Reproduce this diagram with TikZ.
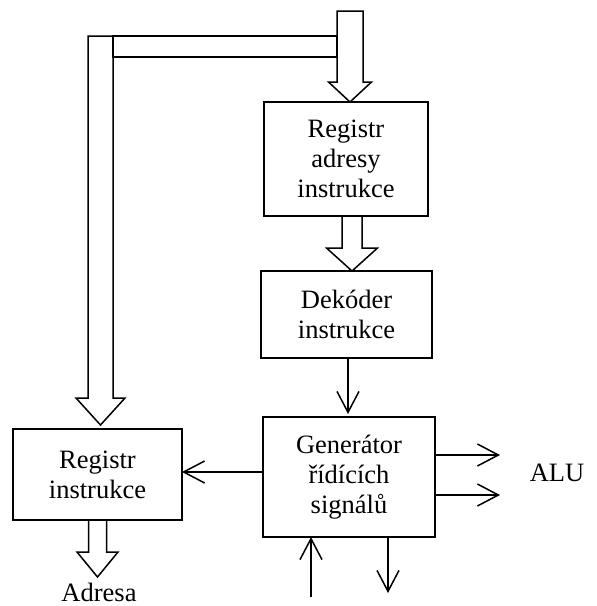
\documentclass[tikz,border=0pt]{standalone}
\usepackage{fontspec}
\setmainfont{Liberation Serif}
\usetikzlibrary{arrows.meta,calc}

% Hollow bus arrow pointing down: #1 tail point, #2 tip point,
% #3 half shaft width, #4 half head width, #5 head length (all in pt)
\newcommand\busdown[5]{%
  \draw[bus] let \p1=(#1), \p2=(#2) in
    (\x2-#3pt,\y1) -- (\x2+#3pt,\y1) -- (\x2+#3pt,\y2+#5pt) --
    (\x2+#4pt,\y2+#5pt) -- (\x2,\y2) -- (\x2-#4pt,\y2+#5pt) --
    (\x2-#3pt,\y2+#5pt) -- cycle;}

\begin{document}
\begin{tikzpicture}[x=1pt,y=-1pt,
  line width=1.5pt,
  blk/.style={draw,rectangle,inner sep=0pt,outer sep=0pt,align=center,
    font=\fontsize{26.5}{30}\selectfont},
  lbl/.style={inner sep=0pt,font=\fontsize{26.5}{30}\selectfont},
  bus/.style={draw,line join=miter,fill=white},
  sig/.style={-{Straight Barb[length=21pt,width=22pt]}}]
\useasboundingbox (0,0) rectangle (597,606);

% blocks of the control unit
\node[blk,minimum width=164pt,minimum height=114pt] (rai) at (346,159)
  {Registr\\adresy\\instrukce};
\node[blk,minimum width=171pt,minimum height=87pt] (dek) at (346.5,314.5)
  {Dekóder\\instrukce};
\node[blk,minimum width=172pt,minimum height=120pt] (gen) at (349,477)
  {Generátor\\řídících\\signálů};
\node[blk,minimum width=169pt,minimum height=91pt] (ri) at (97.5,474.5)
  {Registr\\instrukce};
\node[lbl] (alu) at (557,473) {ALU};
\node[lbl] (adr) at (99,592) {Adresa};

% anchor points for the buses and signal lines
\coordinate (busin) at (350,11);
\coordinate (bustop) at (100.5,36);
\coordinate (midbus) at (352,0);
\coordinate (adrtip) at (97.5,577);
\coordinate (sigx) at (348,0);
\coordinate (lnk) at (0,472);
\coordinate (alu1) at (500,455);
\coordinate (alu2) at (500,495);
\coordinate (inb) at (311,597);
\coordinate (outb) at (388,593);

% internal data bus
\busdown{bustop}{$(ri.north -| bustop)+(0,4pt)$}{12.5}{24.5}{27}
\draw[bus] (113,36) rectangle (337,57);
\busdown{busin}{rai.north -| busin}{13}{21.5}{20}
\busdown{rai.south -| midbus}{dek.north -| midbus}{10}{25.5}{23}
\busdown{ri.south}{adrtip}{9}{20.5}{25}

% control signals
\draw[sig] (dek.south -| sigx) -- ($(gen.north -| sigx)+(0,3pt)$);
\draw[sig] (gen.west |- lnk) -- (ri.east |- lnk);
\draw[sig] (gen.east |- alu1) -- (alu1);
\draw[sig] (gen.east |- alu2) -- (alu2);
\draw[sig] (inb) -- (gen.south -| inb);
\draw[sig] (gen.south -| outb) -- (outb);
\end{tikzpicture}
\end{document}
